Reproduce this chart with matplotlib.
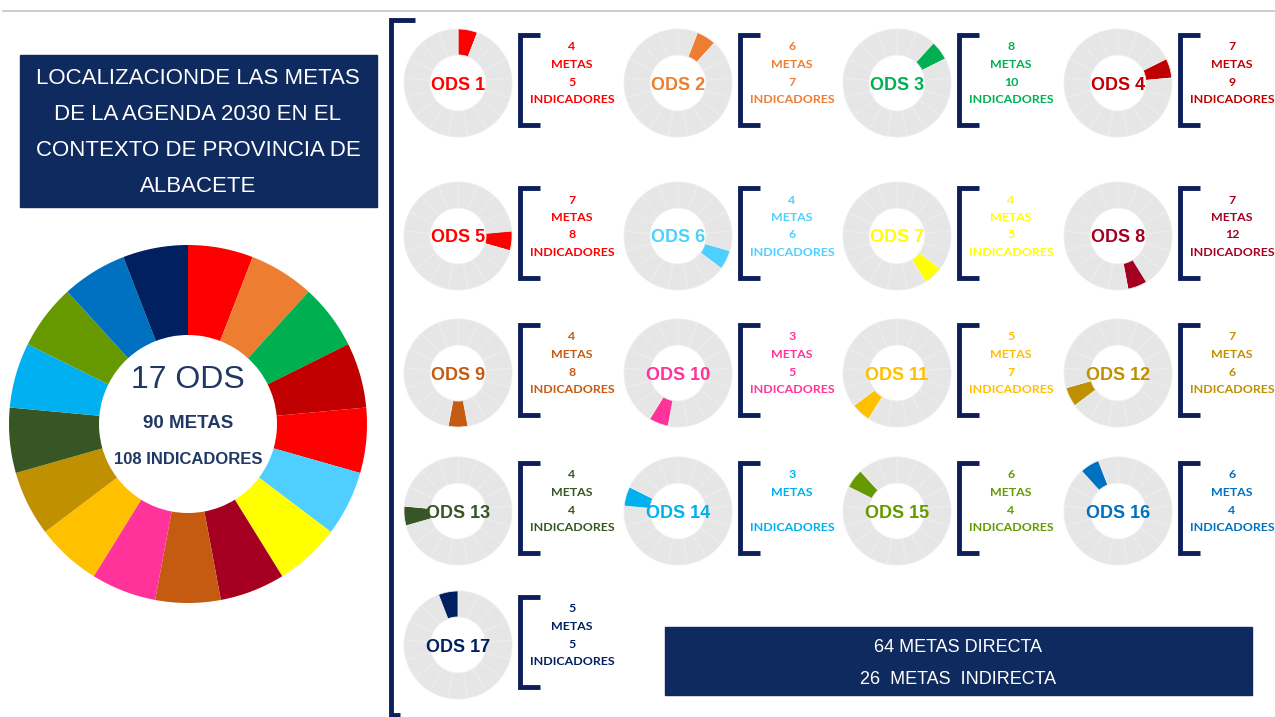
import matplotlib.pyplot as plt
from matplotlib.patches import Rectangle

# datos del grafico
ods_names = ['ODS %d' % i for i in range(1, 18)]
ods_colors = ['#FF0000', '#ED7D31', '#00B050', '#C00000', '#FF0000', '#4FCFFF',
              '#FFFF00', '#A50021', '#C55A11', '#FF3399', '#FFC000', '#BF9000',
              '#375623', '#00B0F0', '#669900', '#0070C0', '#002060']
metas = [4, 6, 8, 7, 7, 4, 4, 7, 4, 3, 5, 7, 4, 3, 6, 6, 5]
indicadores = ['5', '7', '10', '9', '8', '6', '5', '12', '8', '5', '7', '6', '4', '', '4', '4', '5']
title_lines = ['LOCALIZACIONDE LAS METAS', 'DE LA AGENDA 2030 EN EL',
               'CONTEXTO DE PROVINCIA DE', 'ALBACETE']
total_ods = 17
total_metas = 90
total_indicadores = 108
metas_directa = 64
metas_indirecta = 26

W, H = 1275, 717
NAVY = '#0f2a5e'
BRACKET = '#0c1f5b'
CENTER_TXT = '#1f3864'

def Y(y):
    return H - y

fig = plt.figure(figsize=(W / 100, H / 100), dpi=100)
ax = fig.add_axes([0, 0, 1, 1])

# linea gris superior
ax.plot([3, W], [Y(11), Y(11)], color='#c8c8c8', lw=1.3)

# caja del titulo
ax.add_patch(Rectangle((20, Y(207)), 357, 152, color=NAVY, zorder=2))
for i, line in enumerate(title_lines):
    ax.text(198, Y(79 + 36 * i), line, color='white', fontsize=16,
            family='Liberation Sans', ha='center', va='center', zorder=3)

# donut grande
ax.pie([1] * total_ods, colors=ods_colors, startangle=90, counterclock=False,
       radius=179, center=(188, Y(424)), wedgeprops=dict(width=90, linewidth=0))
ax.text(188, Y(380), '%d ODS' % total_ods, color=CENTER_TXT, fontsize=23,
        family='Liberation Sans', ha='center', va='center')
ax.text(188, Y(423), '%d METAS' % total_metas, color=CENTER_TXT, fontsize=13.5,
        family='Liberation Sans', weight='bold', ha='center', va='center')
ax.text(188, Y(460), '%d INDICADORES' % total_indicadores, color=CENTER_TXT, fontsize=12,
        family='Liberation Sans', weight='bold', ha='center', va='center')

# corchete grande
ax.plot([415, 391, 391, 400], [Y(20), Y(20), Y(715), Y(715)], color=BRACKET,
        lw=3.5, solid_joinstyle='miter', solid_capstyle='butt')

# donuts pequenos
col_x = [458, 678, 897, 1118]
row_y = [83, 236, 373, 511, 645]
for i in range(total_ods):
    cx = col_x[i % 4]
    cy = row_y[i // 4]
    cols = ['#e6e6e6'] * total_ods
    cols[i] = ods_colors[i]
    expl = [0.0] * total_ods
    expl[i] = 0.04
    ax.pie([1] * total_ods, colors=cols, explode=expl, startangle=90, counterclock=False,
           radius=54, center=(cx, Y(cy)),
           wedgeprops=dict(width=26, linewidth=0.6, edgecolor='#eeeeee'))
    ax.text(cx, Y(cy + 2), ods_names[i], color=ods_colors[i], fontsize=13,
            family='Liberation Sans', weight='bold', ha='center', va='center', zorder=5)
    # corchete
    bx = cx + 62
    bt, bb = cy - 48, cy + 42
    ax.plot([bx + 20, bx, bx, bx + 20], [Y(bt), Y(bt), Y(bb), Y(bb)], color=BRACKET,
            lw=3.5, solid_joinstyle='miter', solid_capstyle='butt')
    lines = [str(metas[i]), 'METAS', indicadores[i], 'INDICADORES']
    tx = cx + 114
    for k, s in enumerate(lines):
        ax.text(tx, Y(cy - 36 + 17.5 * k), s, color=ods_colors[i], fontsize=8.9,
                family='Lato', weight='bold', ha='center', va='center')

# caja inferior
ax.add_patch(Rectangle((665, Y(695)), 587, 68, color=NAVY, zorder=2))
ax.text(958, Y(647), '%d METAS DIRECTA' % metas_directa, color='white', fontsize=13,
        family='Liberation Sans', ha='center', va='center', zorder=3)
ax.text(958, Y(679), '%d  METAS  INDIRECTA' % metas_indirecta, color='white', fontsize=13,
        family='Liberation Sans', ha='center', va='center', zorder=3)

ax.set_xlim(0, W)
ax.set_ylim(0, H)
ax.set_aspect('equal')
ax.axis('off')
fig.savefig('out.png', dpi=100)
